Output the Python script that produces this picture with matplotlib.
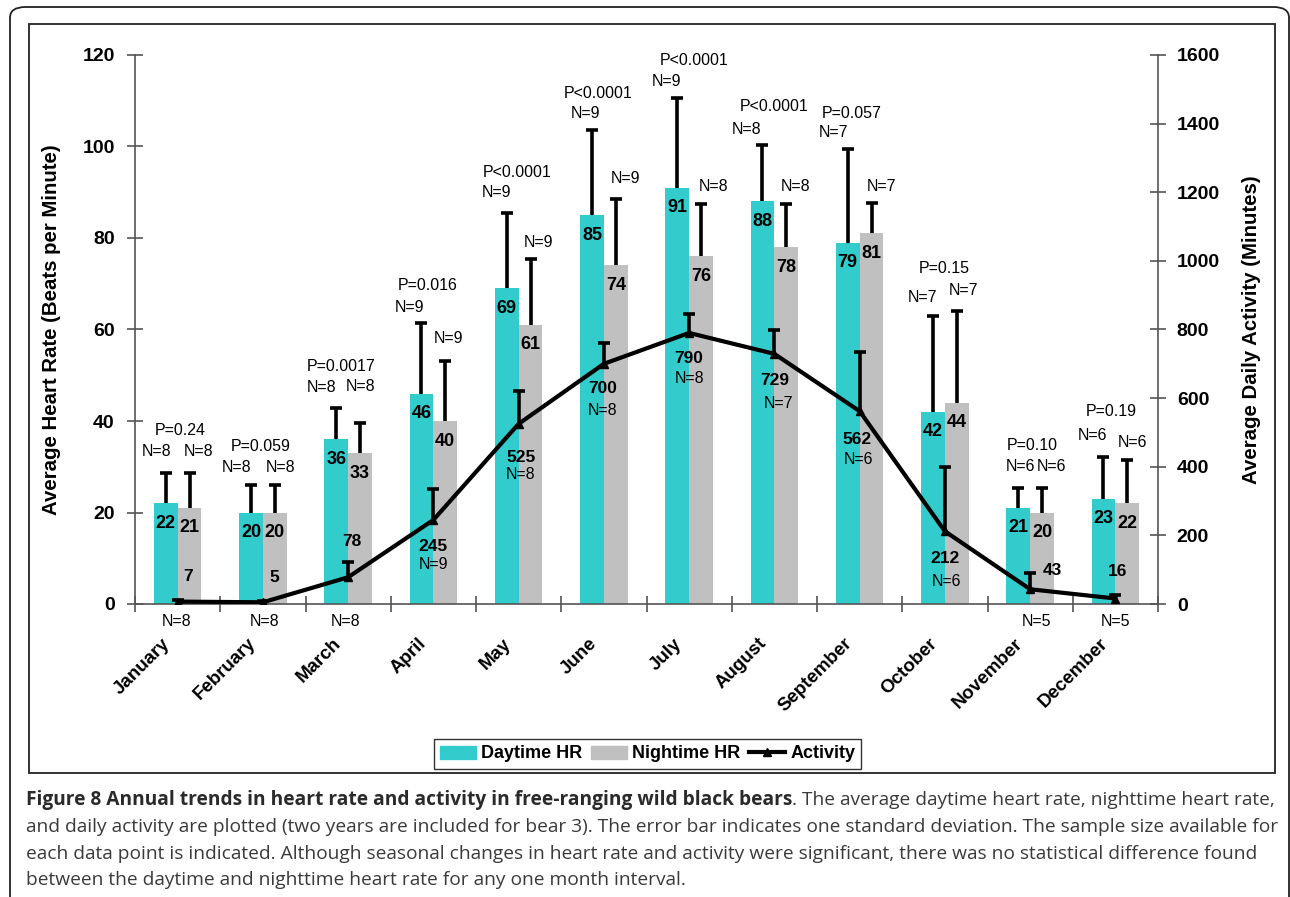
import numpy as np
import matplotlib
matplotlib.use("Agg")
import matplotlib.pyplot as plt
from matplotlib.patches import Patch, Rectangle, FancyBboxPatch
from matplotlib.lines import Line2D

plt.rcParams['font.family'] = ['Liberation Sans', 'DejaVu Sans']

# data
months = ["January", "February", "March", "April", "May", "June", "July",
          "August", "September", "October", "November", "December"]
day_hr = [22, 20, 36, 46, 69, 85, 91, 88, 79, 42, 21, 23]
night_hr = [21, 20, 33, 40, 61, 74, 76, 78, 81, 44, 20, 22]
day_sd = [6.6, 6.0, 6.8, 15.4, 16.5, 18.6, 19.6, 12.3, 20.4, 21.0, 4.4, 9.1]
night_sd = [7.6, 6.0, 6.6, 13.1, 14.4, 14.5, 11.4, 9.4, 6.6, 20.1, 5.4, 9.5]
activity = [7, 5, 78, 245, 525, 700, 790, 729, 562, 212, 43, 16]
activity_sd = [5, 3, 44, 90, 96, 61, 55, 70, 173, 188, 47, 10]
day_n = [8, 8, 8, 9, 9, 9, 9, 8, 7, 7, 6, 6]
night_n = [8, 8, 8, 9, 9, 9, 8, 8, 7, 7, 6, 6]
act_n = [8, 8, 8, 9, 8, 8, 8, 7, 6, 6, 5, 5]
p_vals = ["P=0.24", "P=0.059", "P=0.0017", "P=0.016", "P<0.0001", "P<0.0001",
          "P<0.0001", "P<0.0001", "P=0.057", "P=0.15", "P=0.10", "P=0.19"]

# label placement (pixel offsets, as hand-placed in the original)
dayN_off = [(-9, 22), (-14, 18), (-15, 21), (-12, 16), (-10, 20), (-6, 17),
            (-11, 17), (-16, 16), (-14, 17), (-10, 18), (2, 21), (-11, 22)]
nightN_off = [(9, 22), (6, 18), (1, 36), (3, 23), (8, 17), (10, 21),
              (13, 18), (9, 18), (10, 17), (7, 20), (9, 21), (5, 17)]
p_off = [(3, 43), (-2, 39), (-7, 42), (-6, 38), (-1, 40), (-6, 37),
         (5, 38), (0, 39), (-8, 36), (-1, 47), (2, 42), (-4, 46)]
act_off = [(10, 25), (11, 25), (4, 36), (0, -27), (2, -34), (-1, -25),
           (0, -26), (0, -27), (-3, -28), (0, -27), (22, 19), (2, 27)]
actN_below = [True, True, True, False, False, False, False, False, False, False, True, True]
actN_off = [(-1, 0), (2, 0), (-3, 0), (0, -45), (2, -51), (-1, -47),
            (0, -46), (4, -50), (-1, -48), (2, -50), (6, 0), (0, 0)]

teal = '#33CCCC'
grey = '#C0C0C0'
axcol = '#555555'

fig = plt.figure(figsize=(12.9, 8.97), dpi=100)
ax = fig.add_axes([135 / 1290, 1 - 604 / 897, (1158 - 135) / 1290, (604 - 55) / 897])
ax2 = ax.twinx()

x = np.arange(len(months)) + 0.5
w = 0.28
z = np.zeros(len(months))


def upper_errorbar(a, xs, ys, err, zo):
    # one-sided (upper) error bars, no cap at the bar top
    _, caps, _ = a.errorbar(xs, ys, yerr=[z, err], fmt='none', ecolor='black',
                            elinewidth=2.6, capsize=4.5, capthick=2.6, zorder=zo)
    caps[0].set_visible(False)


ax.bar(x - w / 2, day_hr, w, color=teal, zorder=2)
ax.bar(x + w / 2, night_hr, w, color=grey, zorder=2)
upper_errorbar(ax, x - w / 2, day_hr, day_sd, 3)
upper_errorbar(ax, x + w / 2, night_hr, night_sd, 3)

ax2.plot(x, activity, color='black', lw=3, marker='^', ms=6, zorder=4)
upper_errorbar(ax2, x, activity, activity_sd, 4)

ax.set_xlim(0, 12)
ax.set_ylim(0, 120)
ax2.set_ylim(0, 1600)
ax.set_yticks(np.arange(0, 121, 20))
ax2.set_yticks(np.arange(0, 1601, 200))
ax.set_xticks(np.arange(0, 13))
ax.set_xticklabels([])
ax.tick_params(axis='x', which='major', direction='inout', length=11, color=axcol, width=1.2)
ax.tick_params(axis='y', direction='inout', length=11, color=axcol, width=1.2,
               labelsize=14, pad=9)
ax2.tick_params(axis='y', direction='inout', length=11, color=axcol, width=1.2,
                labelsize=14, pad=8)
for lab in ax.get_yticklabels() + ax2.get_yticklabels():
    lab.set_fontweight('bold')

# month names, slanted, under each category
for i, m in enumerate(months):
    ax.annotate(m, (x[i], 0), xycoords=('data', 'axes fraction'), xytext=(-10, -37),
                textcoords='offset pixels', rotation=45, rotation_mode='anchor',
                ha='right', va='center', fontsize=13.5, fontweight='bold',
                annotation_clip=False)

for s in ['top', 'right']:
    ax.spines[s].set_visible(False)
for s in ['top', 'left', 'bottom']:
    ax2.spines[s].set_visible(False)
for a, s in [(ax, 'left'), (ax, 'bottom'), (ax2, 'right')]:
    a.spines[s].set_color(axcol)
    a.spines[s].set_linewidth(1.2)

ax.set_ylabel("Average Heart Rate (Beats per Minute)", fontsize=14.7, fontweight='bold')
ax2.set_ylabel("Average Daily Activity (Minutes)", fontsize=14.7, fontweight='bold')
ax.yaxis.set_label_coords((61 - 135) / 1023, 0.5)
ax2.yaxis.set_label_coords((1242 - 135) / 1023, 0.5)

# value labels inside bars
for i in range(len(months)):
    ax.annotate(str(day_hr[i]), (x[i] - w / 2, day_hr[i]), xytext=(0, -20),
                textcoords='offset pixels', ha='center', va='center',
                fontsize=13, fontweight='bold', zorder=5)
    ax.annotate(str(night_hr[i]), (x[i] + w / 2, night_hr[i]), xytext=(0, -20),
                textcoords='offset pixels', ha='center', va='center',
                fontsize=13, fontweight='bold', zorder=5)
    top_d = day_hr[i] + day_sd[i]
    top_n = night_hr[i] + night_sd[i]
    ax.annotate("N=%d" % day_n[i], (x[i] - w / 2, top_d), xytext=dayN_off[i],
                textcoords='offset pixels', ha='center', va='center', fontsize=11.5)
    ax.annotate("N=%d" % night_n[i], (x[i] + w / 2, top_n), xytext=nightN_off[i],
                textcoords='offset pixels', ha='center', va='center', fontsize=11.5)
    ax.annotate(p_vals[i], (x[i], top_d), xytext=p_off[i],
                textcoords='offset pixels', ha='center', va='center', fontsize=11.5)
    ax2.annotate(str(activity[i]), (x[i], activity[i]), xytext=act_off[i],
                 textcoords='offset pixels', ha='center', va='center',
                 fontsize=12.5, fontweight='bold', zorder=6)
    if actN_below[i]:
        ax2.annotate("N=%d" % act_n[i], (x[i], 0), xytext=(actN_off[i][0], -17),
                     textcoords='offset pixels', ha='center', va='center',
                     fontsize=11.5, annotation_clip=False)
    else:
        ax2.annotate("N=%d" % act_n[i], (x[i], activity[i]), xytext=actN_off[i],
                     textcoords='offset pixels', ha='center', va='center',
                     fontsize=11.5, zorder=6)

handles = [Patch(color=teal), Patch(color=grey),
           Line2D([], [], color='black', lw=3, marker='^', ms=6)]
leg = fig.legend(handles, ["Daytime HR", "Nightime HR", "Activity"], loc='center',
                 bbox_to_anchor=(647.5 / 1290, 1 - 754 / 897), ncol=3, frameon=True,
                 fancybox=False, edgecolor='black', borderpad=0.35, handlelength=2.0,
                 handletextpad=0.3, columnspacing=0.45,
                 prop={'size': 13, 'weight': 'bold'})
leg.get_frame().set_linewidth(1.0)

# frames
fig.patches.append(Rectangle((29 / 1290, 1 - 773 / 897), (1275 - 29) / 1290, (773 - 24) / 897,
                             transform=fig.transFigure, fill=False, ec='#222222', lw=1.3))
fig.patches.append(FancyBboxPatch((10 / 1290, -0.02), (1289 - 10) / 1290, 1 - 7 / 897 + 0.02,
                                  boxstyle='round,pad=0,rounding_size=0.012',
                                  transform=fig.transFigure, fill=False, ec='#222222', lw=1.3))

# caption
cap_font = ['Open Sans', 'DejaVu Sans']
cap_size = 13.8
t1 = fig.text(26 / 1290, 1 - 800 / 897, "Figure 8 Annual trends in heart rate and activity in free-ranging wild black bears",
              fontsize=cap_size, fontweight='bold', family=cap_font, color='#2a2a2a', va='center')
fig.canvas.draw()
bb = t1.get_window_extent()
fig.text(bb.x1 / 1290, 1 - 800 / 897, ". The average daytime heart rate, nighttime heart rate,",
         fontsize=cap_size, family=cap_font, color='#3a3a3a', va='center')
rest = ["and daily activity are plotted (two years are included for bear 3). The error bar indicates one standard deviation. The sample size available for",
        "each data point is indicated. Although seasonal changes in heart rate and activity were significant, there was no statistical difference found",
        "between the daytime and nighttime heart rate for any one month interval."]
for k, line in enumerate(rest):
    fig.text(26 / 1290, 1 - (827 + 26.5 * k) / 897, line, fontsize=cap_size,
             family=cap_font, color='#3a3a3a', va='center')

fig.savefig("out.png", dpi=100)
